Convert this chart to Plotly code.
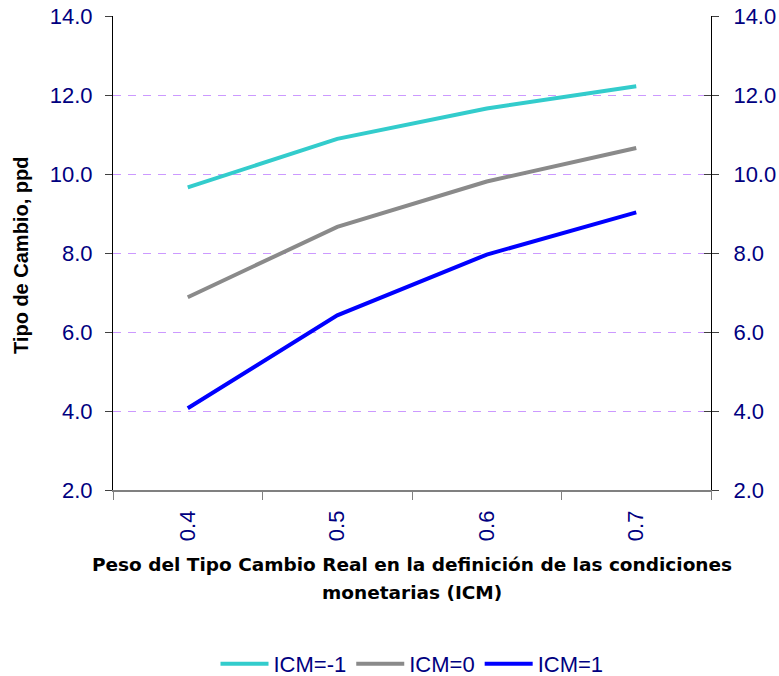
import plotly.graph_objects as go

# Peso del tipo de cambio real en el ICM (categorías del eje X)
peso = ["0.4", "0.5", "0.6", "0.7"]

# Tipo de cambio (ppd) para cada escenario del ICM
icm_menos1 = [9.66, 10.89, 11.66, 12.22]
icm_cero = [6.88, 8.66, 9.81, 10.66]
icm_uno = [4.07, 6.42, 7.96, 9.03]

series_names = ["ICM=-1", "ICM=0", "ICM=1"]
series_values = [icm_menos1, icm_cero, icm_uno]
series_colors = ["#33CCCC", "#8A8A8A", "#0000FF"]

y_ticks = [2, 4, 6, 8, 10, 12, 14]

FONT = "Liberation Sans, Arial, sans-serif"
TITLE_FONT = "DejaVu Sans, Verdana, sans-serif"
NAVY = "#000080"

# plot area: 113..711 px horizontally, 16..490 px vertically
TOP, BOTTOM_MARGIN = 16, 186
PLOT_H = 676 - TOP - BOTTOM_MARGIN
PLOT_W = 779 - 113 - 68


def py(pixel_y):
    """Paper y coordinate of a pixel row below the plot top."""
    return (676 - BOTTOM_MARGIN - pixel_y) / PLOT_H


fig = go.Figure()
for name, vals, col in zip(series_names, series_values, series_colors):
    fig.add_trace(go.Scatter(
        x=peso, y=vals, name=name, mode="lines",
        line=dict(color=col, width=4),
        hoverinfo="x+y+name",
    ))

# invisible companion trace so the right-hand axis is rendered
fig.add_trace(go.Scatter(
    x=peso, y=icm_menos1, yaxis="y2", mode="lines",
    line=dict(width=0), opacity=0, showlegend=False, hoverinfo="skip",
))

fig.update_layout(
    width=779, height=676,
    margin=dict(l=113, r=68, t=TOP, b=BOTTOM_MARGIN, autoexpand=False),
    paper_bgcolor="white", plot_bgcolor="white",
    font=dict(family=FONT, color=NAVY),
    showlegend=True,
    legend=dict(
        orientation="h", x=0.5, xanchor="center",
        y=py(664), yanchor="middle",
        font=dict(family=FONT, size=22, color=NAVY),
        itemwidth=48, tracegroupgap=0,
        bgcolor="rgba(0,0,0,0)",
    ),
    xaxis=dict(
        type="category", range=[-0.5, 3.5], automargin=False,
        showline=True, linecolor="#808080", linewidth=1.5,
        ticks="outside", ticklen=8, tickcolor="#808080", tickwidth=1,
        tickson="boundaries",
        tickangle=-90,
        tickfont=dict(family=FONT, size=22, color=NAVY),
        ticklabelstandoff=10,
        showgrid=False, zeroline=False,
    ),
    yaxis=dict(
        range=[2, 14], tickvals=y_ticks, tickformat=".1f", automargin=False,
        showline=True, linecolor="black", linewidth=1,
        mirror="ticks",
        ticks="outside", ticklen=7, tickcolor="#404040", tickwidth=1,
        tickfont=dict(family=FONT, size=22, color=NAVY),
        ticklabelstandoff=8,
        showgrid=True, gridcolor="#CC99FF", gridwidth=1, griddash="8px,7px",
        zeroline=False,
    ),
    yaxis2=dict(
        overlaying="y", side="right", automargin=False,
        range=[2, 14], tickvals=y_ticks, tickformat=".1f",
        showline=True, linecolor="black", linewidth=1,
        ticks="inside", ticklen=7, tickcolor="#404040", tickwidth=1,
        tickfont=dict(family=FONT, size=22, color=NAVY),
        ticklabelstandoff=17,
        showgrid=False, zeroline=False,
    ),
)

# axis titles
fig.add_annotation(
    text="<b>Tipo de Cambio, ppd</b>", textangle=-90,
    xref="paper", yref="paper", x=(21 - 113) / PLOT_W, y=py(256),
    xanchor="center", yanchor="middle", showarrow=False,
    font=dict(family=FONT, size=20, color="black"),
)
fig.add_annotation(
    text="<b>Peso del Tipo Cambio Real en la definición de las condiciones</b>",
    xref="paper", yref="paper", x=0.5, y=py(564),
    xanchor="center", yanchor="middle", showarrow=False,
    font=dict(family=TITLE_FONT, size=18.5, color="black"),
)
fig.add_annotation(
    text="<b>monetarias (ICM)</b>",
    xref="paper", yref="paper", x=0.5, y=py(592),
    xanchor="center", yanchor="middle", showarrow=False,
    font=dict(family=TITLE_FONT, size=18.5, color="black"),
)

fig.write_html("out.html")
